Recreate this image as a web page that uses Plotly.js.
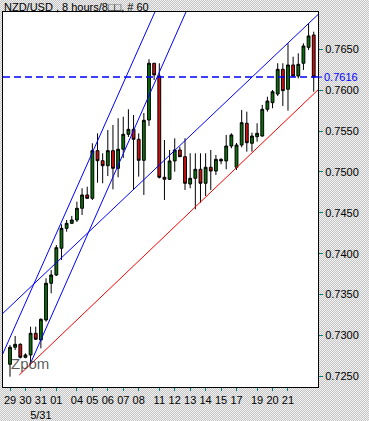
<!DOCTYPE html>
<html>
<head>
<meta charset="utf-8">
<script src="https://cdn.plot.ly/plotly-3.0.1.min.js"></script>
<style>
  html, body { margin: 0; padding: 0; }
  body {
    width: 369px; height: 421px; overflow: hidden;
    background: repeating-conic-gradient(#c4c4c4 0% 25%, #f2f2f2 0% 50%) 0 0 / 2px 2px;
  }
  #chart { width: 369px; height: 421px; }
</style>
</head>
<body>
<div id="chart"></div>
<script>
// ---- data (8-hour candles, slot index 0..59) ----
const openP = [0.72647,0.72855,0.72891,0.72732,0.72761,0.73026,0.72944,0.73189,0.73638,0.73739,
  0.74066,0.74310,0.74371,0.74412,0.74555,0.74718,0.74677,0.75260,0.75137,0.75076,
  0.75260,0.75044,0.75277,0.75460,0.75521,0.75399,0.75142,0.75635,0.76329,0.76173,
  0.74934,0.74910,0.75134,0.75268,0.75186,0.74852,0.74922,0.75032,0.74861,0.75057,
  0.75011,0.75154,0.75134,0.75317,0.75057,0.75329,0.75595,0.75350,0.75431,0.75439,
  0.75766,0.75847,0.75953,0.76255,0.76011,0.76308,0.76173,0.76329,0.76524,0.76675];
const highP = [0.72883,0.72993,0.72904,0.72781,0.73107,0.73107,0.73209,0.73699,0.73800,0.74106,
  0.74359,0.74412,0.74461,0.74636,0.74800,0.74819,0.75350,0.75472,0.75228,0.75513,
  0.75574,0.75656,0.75675,0.75766,0.75696,0.75472,0.75721,0.76378,0.76329,0.76329,
  0.75390,0.75268,0.75411,0.75308,0.75411,0.75228,0.75228,0.75228,0.75228,0.75268,
  0.75207,0.75167,0.75452,0.75472,0.75354,0.75757,0.75737,0.75480,0.75595,0.75819,
  0.75920,0.76002,0.76329,0.76329,0.76573,0.76409,0.76451,0.76573,0.76818,0.76715];
const lowP = [0.72495,0.72822,0.72718,0.72720,0.72659,0.72944,0.72842,0.73168,0.73515,0.73727,
  0.73923,0.74269,0.74363,0.74387,0.74473,0.74670,0.74657,0.74868,0.74861,0.74950,
  0.74787,0.74934,0.75170,0.75427,0.74779,0.74942,0.74718,0.75562,0.76124,0.74920,
  0.74657,0.74901,0.75003,0.75183,0.74779,0.74800,0.74543,0.74623,0.74705,0.74779,
  0.74962,0.75093,0.75032,0.75289,0.75023,0.75301,0.75247,0.75247,0.75370,0.75431,
  0.75737,0.75778,0.75929,0.75806,0.75749,0.76165,0.76145,0.76247,0.76491,0.75981];
const closeP = [0.72855,0.72891,0.72732,0.72761,0.73026,0.72953,0.73197,0.73638,0.73739,0.74073,
  0.74310,0.74371,0.74412,0.74555,0.74718,0.74677,0.75260,0.75137,0.75076,0.75260,
  0.75044,0.75277,0.75460,0.75521,0.75399,0.75142,0.75631,0.76329,0.76186,0.74934,
  0.74910,0.75134,0.75268,0.75186,0.74861,0.74922,0.75032,0.74861,0.75057,0.75011,
  0.75154,0.75134,0.75317,0.75452,0.75329,0.75602,0.75357,0.75439,0.75472,0.75766,
  0.75867,0.75981,0.76255,0.75994,0.76308,0.76173,0.76316,0.76540,0.76663,0.76160];
const slots = openP.map((_, i) => i);

// date tick labels at candle slots
const tickSlots = [0,3,6,9,13,16,19,22,25,29,32,35,38,41,44,48,51,54];
const tickLabels = ["29","30","31<br>5/31","01","04","05","06","07","08","11","12","13","14","15","17","19","20","21"];

// price axis ticks
const priceTicks = [0.7250,0.7300,0.7350,0.7400,0.7450,0.7500,0.7550,0.7600,0.7650];
const lastPrice = 0.7616;

// trend lines (slot, price) endpoints
const trendAx = [-3, 30],      trendAy = [0.72549, 0.77218];
const trendBx = [3.84, 36],    trendBy = [0.72638, 0.77215];
const channelUpX = [-1.42, 59.9], channelUpY = [0.73268, 0.76929];
const channelLoX = [1.8, 59.9],   channelLoY = [0.72516, 0.76008];

const xRange = [-1.36, 59.83];
const yRange = [0.72369, 0.76956];

const FONT = "'Liberation Sans', Arial, sans-serif";

const lineTrace = (x, y, color) => ({
  type: 'scatter', mode: 'lines', x: x, y: y,
  line: {color: color, width: 1}, hoverinfo: 'skip', showlegend: false
});

const traces = [
  lineTrace(trendAx, trendAy, '#0000ff'),
  lineTrace(trendBx, trendBy, '#0000ff'),
  lineTrace(channelUpX, channelUpY, '#0000ff'),
  lineTrace(channelLoX, channelLoY, '#ff0000'),
  {
    type: 'scatter', mode: 'lines', x: xRange, y: [lastPrice, lastPrice],
    line: {color: '#0000ff', width: 1.5, dash: '7px,4px'}, hoverinfo: 'skip', showlegend: false
  },
  {
    type: 'candlestick', x: slots, open: openP, high: highP, low: lowP, close: closeP,
    increasing: {line: {color: '#000000', width: 1}, fillcolor: '#0a6e0a'},
    decreasing: {line: {color: '#000000', width: 1}, fillcolor: '#cc1010'},
    whiskerwidth: 0, showlegend: false, hoverinfo: 'skip'
  }
];

const layout = {
  width: 369, height: 421,
  margin: {l: 3, r: 51, t: 12, b: 34, pad: 0},
  paper_bgcolor: 'rgba(0,0,0,0)',
  plot_bgcolor: '#ffffff',
  showlegend: false,
  boxgap: 0.22,
  font: {family: FONT, size: 11, color: '#000000'},
  title: {
    text: 'NZD/USD , 8 hours/8\u25A1\u25A1, # 60',
    x: 4/369, xanchor: 'left', xref: 'container',
    y: 1 - 7/421, yanchor: 'middle', yref: 'container',
    font: {family: FONT, size: 11, color: '#000000'}
  },
  xaxis: {
    type: 'linear', range: xRange, rangeslider: {visible: false},
    tickmode: 'array', tickvals: tickSlots, ticktext: tickLabels, tickangle: 0,
    ticks: 'outside', ticklen: 3, tickwidth: 1, tickcolor: '#008080',
    showgrid: false, zeroline: false,
    showline: true, linecolor: '#000000', linewidth: 1, mirror: true,
    tickfont: {family: FONT, size: 11, color: '#000000'}, fixedrange: true
  },
  yaxis: {
    side: 'right', range: yRange,
    tickmode: 'array', tickvals: priceTicks, tickformat: '.4f',
    ticks: 'outside', ticklen: 4, tickwidth: 1, tickcolor: '#008080',
    showgrid: false, zeroline: false,
    showline: true, linecolor: '#000000', linewidth: 1, mirror: true,
    tickfont: {family: FONT, size: 11, color: '#000000'}, fixedrange: true
  },
  shapes: [
    {type: 'line', xref: 'paper', yref: 'y', x0: 1, x1: 1.013, y0: lastPrice, y1: lastPrice,
     line: {color: '#0000ff', width: 1}}
  ],
  annotations: [
    {xref: 'paper', yref: 'y', x: 1, y: lastPrice, xanchor: 'left', yanchor: 'middle',
     xshift: 4, showarrow: false, text: lastPrice.toFixed(4),
     font: {family: FONT, size: 11, color: '#0000ff'}},
    {xref: 'paper', yref: 'paper', x: 0.018, y: 0.064, xanchor: 'left', yanchor: 'middle',
     showarrow: false, text: 'Zpom',
     font: {family: FONT, size: 15, color: 'rgba(60,60,60,0.85)'}}
  ]
};

Plotly.newPlot('chart', traces, layout, {staticPlot: true, displayModeBar: false});
</script>
</body>
</html>
